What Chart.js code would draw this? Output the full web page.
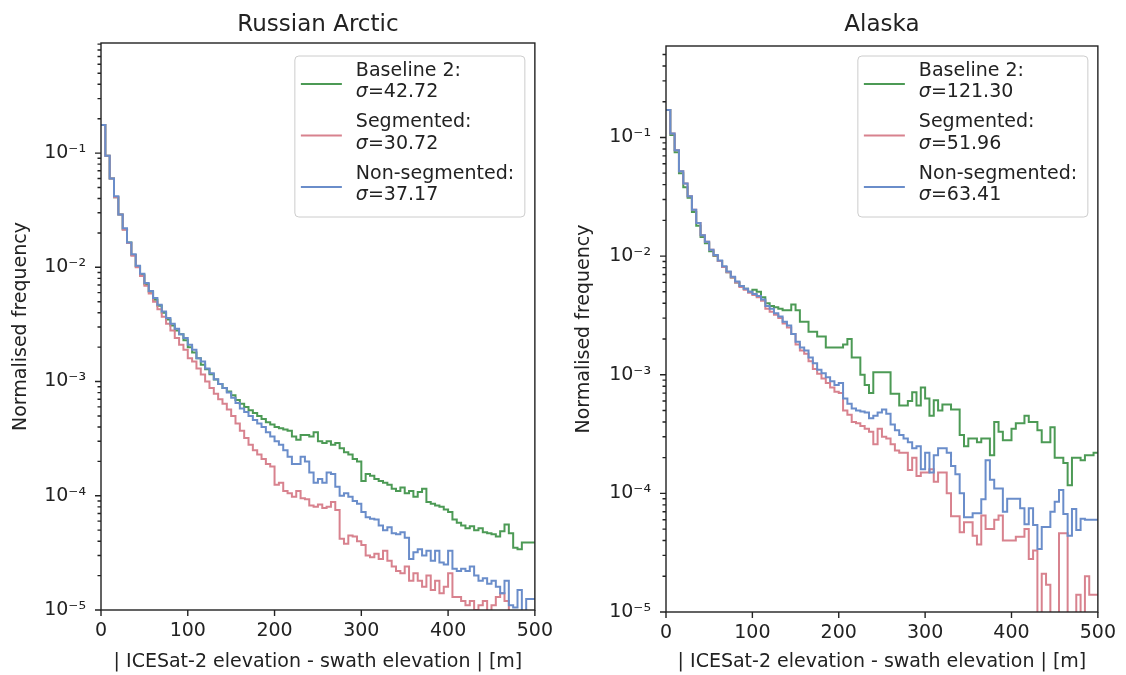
<!DOCTYPE html>
<html>
<head>
<meta charset="utf-8">
<script src="https://cdn.jsdelivr.net/npm/chart.js@4.4.0/dist/chart.umd.min.js"></script>
<style>
  html, body { margin: 0; padding: 0; background: #fff; }
  #wrap { position: relative; width: 1126px; height: 675px; }
  .panel { position: absolute; top: 0; width: 563px; height: 675px; }
</style>
</head>
<body>
<div id="wrap">
  <div class="panel" style="left:0"><canvas id="arctic" width="563" height="675"></canvas></div>
  <div class="panel" style="left:563px"><canvas id="alaska" width="563" height="675"></canvas></div>
</div>
<script>
// histogram bins: 5 m wide, 0..500 m
const BIN_WIDTH = 5;
const X_TICKS = [0, 100, 200, 300, 400, 500];
const Y_MAJOR = [1e-5, 1e-4, 1e-3, 1e-2, 1e-1];
const SERIES_NAMES = ['Baseline 2:', 'Segmented:', 'Non-segmented:'];
const COLORS = ['#4c9a55', '#d8828e', '#6a8dca'];

// Russian Arctic - normalised frequency per bin
const arcticBaseline = [
  0.176, 0.095, 0.060, 0.041, 0.029, 0.0215, 0.0165, 0.0128, 0.0102, 0.0086,
  0.0071, 0.0061, 0.0052, 0.0046, 0.0040, 0.0035, 0.0031, 0.0028, 0.0026, 0.0023,
  0.0020, 0.0018, 0.0016, 0.0014, 0.00128, 0.00116, 0.00104, 0.00095, 0.00088, 0.00082,
  0.00076, 0.00069, 0.00064, 0.00060, 0.00056, 0.00053, 0.00050, 0.00047, 0.00044, 0.00042,
  0.00040, 0.00039, 0.00038, 0.00037, 0.00033, 0.00031, 0.00034, 0.00034, 0.00033, 0.00036,
  0.00030, 0.00029, 0.00030, 0.00028, 0.00029, 0.00026, 0.00024, 0.00023, 0.00021, 0.00020,
  0.000135, 0.000155, 0.00015, 0.00014, 0.000135, 0.00013, 0.000125, 0.000115, 0.00011, 0.000118,
  0.000105, 0.00011, 0.000098, 0.000108, 0.000115, 0.000088, 0.000085, 0.000082, 0.00008, 0.000076,
  0.000072, 0.000062, 0.000058, 0.000055, 0.000052, 0.000054, 0.000050, 0.000052, 0.000048, 0.000047,
  0.000046, 0.000044, 0.000049, 0.000056, 0.000047, 0.000035, 0.000034, 0.000039, 0.000039, 0.000039
];
const arcticSegmented = [
  0.176, 0.095, 0.060, 0.041, 0.029, 0.0213, 0.0163, 0.0126, 0.0100, 0.0084,
  0.0069, 0.0059, 0.0050, 0.0043, 0.0037, 0.0032, 0.0028, 0.0024, 0.0021, 0.0019,
  0.0016, 0.0015, 0.0013, 0.00115, 0.0010, 0.00088, 0.00078, 0.00070, 0.00064, 0.00057,
  0.00050, 0.00043, 0.00037, 0.00032, 0.00028, 0.00025, 0.00023, 0.00021, 0.00019, 0.00018,
  0.000125, 0.00013, 0.00011, 0.000105, 0.000098, 0.00011, 0.000095, 0.000093, 0.000082, 0.000080,
  0.000084, 0.000078, 0.000080, 0.000088, 0.000075, 0.000042, 0.000038, 0.000045, 0.000044, 0.000040,
  0.000037, 0.000030, 0.000029, 0.000031, 0.000028, 0.000033, 0.000027, 0.000024, 0.000022, 0.000021,
  0.000024, 0.000018, 0.000021, 0.000018, 0.000016, 0.000020, 0.000015, 0.000018, 0.000014, 0.000016,
  0.000021, 0.000013, 0.000013, 0.000012, 0.000011, 0.000012, 0.000010, 0.000011, 0.000012, 0.0000095,
  0.000011, 0.000013, 0.000014, 0.000012, 0.0000092, 0.000008, 0.0000095, 0.000007, 0.000008, 0.000008
];
const arcticNonSegmented = [
  0.176, 0.095, 0.060, 0.042, 0.029, 0.022, 0.0165, 0.0130, 0.0103, 0.0088,
  0.0073, 0.0062, 0.0054, 0.0047, 0.0041, 0.0036, 0.0032, 0.0029, 0.0026, 0.0024,
  0.0021, 0.0019, 0.0016, 0.0015, 0.0013, 0.00118, 0.00105, 0.00095, 0.00088, 0.00080,
  0.00072, 0.00065, 0.00058, 0.00054, 0.00050, 0.00046, 0.00043, 0.00040, 0.00036, 0.00033,
  0.00030, 0.00028, 0.00025, 0.00022, 0.00019, 0.00019, 0.00022, 0.00020, 0.00016, 0.00013,
  0.00014, 0.00013, 0.00016, 0.000155, 0.00012, 0.00010, 0.000105, 0.000098, 0.00009, 0.000085,
  0.000072, 0.000065, 0.000063, 0.000062, 0.000055, 0.000050, 0.000053, 0.000047, 0.000046, 0.000048,
  0.000043, 0.000028, 0.000032, 0.000034, 0.000030, 0.000033, 0.000027, 0.000033, 0.000026, 0.000025,
  0.000033, 0.000023, 0.000022, 0.000023, 0.000022, 0.000024, 0.000020, 0.000018, 0.000019, 0.000017,
  0.000018, 0.000016, 0.000014, 0.000018, 0.000011, 0.0000105, 0.000015, 0.000009, 0.0000125, 0.0000125
];
const arcticSigma = [42.72, 30.72, 37.17];

// Alaska - normalised frequency per bin (0 = empty bin)
const alaskaBaseline = [
  0.17, 0.105, 0.075, 0.050, 0.038, 0.031, 0.0235, 0.018, 0.0145, 0.0128,
  0.0110, 0.0100, 0.0091, 0.0081, 0.0073, 0.0066, 0.0060, 0.0056, 0.0053, 0.0050,
  0.0052, 0.0050, 0.0045, 0.0040, 0.0038, 0.0037, 0.0036, 0.0035, 0.0035, 0.0039,
  0.0035, 0.0028, 0.0028, 0.0023, 0.0023, 0.0021, 0.0021, 0.0017, 0.0017, 0.0017,
  0.0017, 0.0018, 0.0020, 0.0014, 0.0014, 0.0010, 0.00082, 0.00070, 0.00105, 0.00105,
  0.00105, 0.00105, 0.00069, 0.00069, 0.00055, 0.00055, 0.00060, 0.00071, 0.00055, 0.00078,
  0.00063, 0.00045, 0.00061, 0.00050, 0.00056, 0.00056, 0.00051, 0.00051, 0.00031, 0.00025,
  0.00029, 0.00029, 0.00027, 0.00029, 0.00029, 0.00021, 0.00040, 0.00033, 0.00028, 0.00028,
  0.00035, 0.00039, 0.00039, 0.00045, 0.00040, 0.00040, 0.00034, 0.00027, 0.00027, 0.00036,
  0.00020, 0.00020, 0.00018, 0.000117, 0.00020, 0.00020, 0.00019, 0.00021, 0.00021, 0.00022
];
const alaskaSegmented = [
  0.17, 0.108, 0.078, 0.052, 0.041, 0.032, 0.0246, 0.019, 0.015, 0.0132,
  0.0113, 0.0101, 0.0091, 0.0081, 0.0073, 0.0066, 0.0060, 0.0055, 0.0052, 0.0049,
  0.0047, 0.0045, 0.0042, 0.0036, 0.0034, 0.0032, 0.0030, 0.0027, 0.0025, 0.0022,
  0.0018, 0.0016, 0.0015, 0.0013, 0.00112, 0.00102, 0.00093, 0.00085, 0.00078, 0.00072,
  0.00070, 0.00050, 0.00046, 0.00040, 0.00039, 0.00037, 0.00035, 0.00033, 0.00026, 0.00035,
  0.00030, 0.00029, 0.00026, 0.00023, 0.00022, 0.00022, 0.000157, 0.00020, 0.00014, 0.00015,
  0.00015, 0.00016, 0.000125, 0.00015, 0.00015, 0.00010, 0.000064, 0.000064, 0.000047, 0.000057,
  0.000057, 0.000044, 0.000037, 0.000065, 0.00005, 0.00005, 0.00006, 0.000065, 0.00004, 0.00004,
  0.00004, 0.000043, 0.000043, 0.00005, 0.000028, 0.000033, 0, 0.000021, 0.000017, 0,
  0, 0.000046, 0.000046, 0, 0, 0.000014, 0, 0.00002, 0.000014, 0.000014
];
const alaskaNonSegmented = [
  0.17, 0.108, 0.078, 0.052, 0.041, 0.032, 0.0246, 0.019, 0.015, 0.0132,
  0.0113, 0.0102, 0.0092, 0.0082, 0.0074, 0.0067, 0.0061, 0.0056, 0.0053, 0.0050,
  0.0048, 0.0046, 0.0043, 0.0038, 0.0036, 0.0033, 0.0031, 0.0028, 0.0026, 0.0022,
  0.0019, 0.0017, 0.0016, 0.0014, 0.00125, 0.0011, 0.00103, 0.00095, 0.00088, 0.00082,
  0.00085, 0.00063, 0.00057, 0.00052, 0.00050, 0.00049, 0.00048, 0.00043, 0.00045, 0.00048,
  0.00051, 0.00047, 0.00038, 0.00034, 0.00031, 0.00029, 0.00027, 0.00024, 0.00025, 0.00016,
  0.00022, 0.00015, 0.00021, 0.00024, 0.00024, 0.00022, 0.00017, 0.000145, 0.00010, 0.000063,
  0.000063, 0.000068, 0.000068, 0.000089, 0.00019, 0.00013, 0.00011, 0.00011, 0.00007, 0.00009,
  0.00009, 0.00009, 0.000075, 0.000055, 0.000075, 0.000054, 0.000034, 0.000052, 0.000052, 0.00007,
  0.000085, 0.000107, 0.000067, 0.000044, 0.000074, 0.000049, 0.000061, 0.00006, 0.00006, 0.00006
];
const alaskaSigma = [121.30, 51.96, 63.41];

const INK = '#222222';
const FONT = '"DejaVu Sans", sans-serif';
const LABEL_SIZE = 19;
const EMPTY_BIN = 1e-8; // empty bins fall below the axis like matplotlib's log steps

Chart.defaults.font.family = FONT;
Chart.defaults.color = INK;

function stepPoints(values) {
  const pts = values.map((v, i) => ({ x: i * BIN_WIDTH, y: v > 0 ? v : EMPTY_BIN }));
  pts.push({ x: values.length * BIN_WIDTH, y: pts[pts.length - 1].y });
  return pts;
}

function superscript(n) {
  const map = { '-': '\u207b', '0': '\u2070', '1': '\u00b9', '2': '\u00b2', '3': '\u00b3',
    '4': '\u2074', '5': '\u2075', '6': '\u2076', '7': '\u2077', '8': '\u2078', '9': '\u2079' };
  return String(n).split('').map(c => map[c]).join('');
}

// frame, ticks, title and legend drawn in matplotlib style
const mplAxes = {
  id: 'mplAxes',
  afterDraw(chart, args, opts) {
    const { ctx, chartArea: a, scales: { x, y } } = chart;
    ctx.save();
    ctx.strokeStyle = INK;
    ctx.lineWidth = 1.4;
    ctx.strokeRect(a.left, a.top, a.right - a.left, a.bottom - a.top);

    ctx.beginPath();
    X_TICKS.forEach(v => {
      const px = x.getPixelForValue(v);
      ctx.moveTo(px, a.bottom); ctx.lineTo(px, a.bottom + 6);
    });
    Y_MAJOR.forEach(v => {
      const py = y.getPixelForValue(v);
      ctx.moveTo(a.left, py); ctx.lineTo(a.left - 6, py);
      for (let m = 2; m <= 9; m++) {
        if (v * m > y.max) break;
        const pm = y.getPixelForValue(v * m);
        ctx.moveTo(a.left, pm); ctx.lineTo(a.left - 3.5, pm);
      }
    });
    ctx.stroke();

    // title
    ctx.fillStyle = INK;
    ctx.font = '23px ' + FONT;
    ctx.textAlign = 'center';
    ctx.textBaseline = 'middle';
    ctx.fillText(opts.title, (a.left + a.right) / 2, 25);

    // legend box
    const w = 230, h = 161;
    const bx = a.right - 10 - w, by = a.top + opts.legendTop;
    ctx.beginPath();
    ctx.roundRect(bx, by, w, h, 4);
    ctx.fillStyle = 'rgba(255,255,255,0.8)';
    ctx.fill();
    ctx.strokeStyle = '#cccccc';
    ctx.lineWidth = 1;
    ctx.stroke();

    ctx.textAlign = 'left';
    [0, 1, 2].forEach(i => {
      const ds = chart.data.datasets.find(d => d.seriesIndex === i);
      const ty = by + 15 + i * 51.5;
      ctx.strokeStyle = ds.borderColor;
      ctx.lineWidth = 2;
      ctx.beginPath();
      ctx.moveTo(bx + 6, ty + 13); ctx.lineTo(bx + 47, ty + 13);
      ctx.stroke();
      ctx.fillStyle = INK;
      ctx.font = LABEL_SIZE + 'px ' + FONT;
      ctx.fillText(ds.label, bx + 61, ty);
      ctx.font = 'italic ' + LABEL_SIZE + 'px ' + FONT;
      ctx.fillText('\u03c3', bx + 61, ty + 21.5);
      const sw = ctx.measureText('\u03c3').width;
      ctx.font = LABEL_SIZE + 'px ' + FONT;
      ctx.fillText('=' + ds.sigma.toFixed(2), bx + 61 + sw, ty + 21.5);
    });
    ctx.restore();
  }
};

function makePanel(canvasId, title, series, sigma, yMax, layout) {
  const datasets = series.map((vals, i) => ({
    label: SERIES_NAMES[i],
    sigma: sigma[i],
    seriesIndex: i,
    data: stepPoints(vals),
    borderColor: COLORS[i],
    borderWidth: 2,
    stepped: true,
    pointRadius: 0,
    fill: false,
    order: 3 - i
  }));

  new Chart(document.getElementById(canvasId), {
    type: 'line',
    data: { datasets },
    plugins: [mplAxes],
    options: {
      responsive: false,
      animation: false,
      layout: { padding: { left: 0, top: layout.top, right: layout.right, bottom: 0 } },
      plugins: {
        legend: { display: false },
        tooltip: { enabled: false },
        mplAxes: { title, legendTop: layout.legendTop }
      },
      scales: {
        x: {
          type: 'linear',
          min: 0,
          max: 500,
          grid: { display: false, drawTicks: false },
          border: { display: false },
          ticks: { stepSize: 100, padding: 10, font: { size: LABEL_SIZE }, color: INK, maxRotation: 0 },
          title: {
            display: true,
            text: '| ICESat-2 elevation - swath elevation | [m]',
            font: { size: LABEL_SIZE },
            color: INK,
            padding: { top: 0, bottom: 1.5 }
          },
          afterFit: s => { s.height = layout.xHeight; }
        },
        y: {
          type: 'logarithmic',
          min: 1e-5,
          max: yMax,
          grid: { display: false, drawTicks: false },
          border: { display: false },
          afterBuildTicks: s => { s.ticks = Y_MAJOR.map(v => ({ value: v })); },
          ticks: {
            autoSkip: false,
            padding: 15,
            font: { size: LABEL_SIZE },
            color: INK,
            callback: v => '10' + superscript(Math.round(Math.log10(v)))
          },
          title: {
            display: true,
            text: 'Normalised frequency',
            font: { size: LABEL_SIZE },
            color: INK,
            padding: { top: layout.yTitlePad, bottom: 0 }
          },
          afterFit: s => { s.width = layout.yWidth; }
        }
      }
    }
  });
}

makePanel('arctic', 'Russian Arctic',
  [arcticBaseline, arcticSegmented, arcticNonSegmented], arcticSigma, 0.92,
  { top: 43, right: 28, xHeight: 65, yWidth: 101, yTitlePad: 10, legendTop: 13 });

makePanel('alaska', 'Alaska',
  [alaskaBaseline, alaskaSegmented, alaskaNonSegmented], alaskaSigma, 0.59,
  { top: 46, right: 23, xHeight: 63, yWidth: 103, yTitlePad: 9.5, legendTop: 10 });
</script>
</body>
</html>
